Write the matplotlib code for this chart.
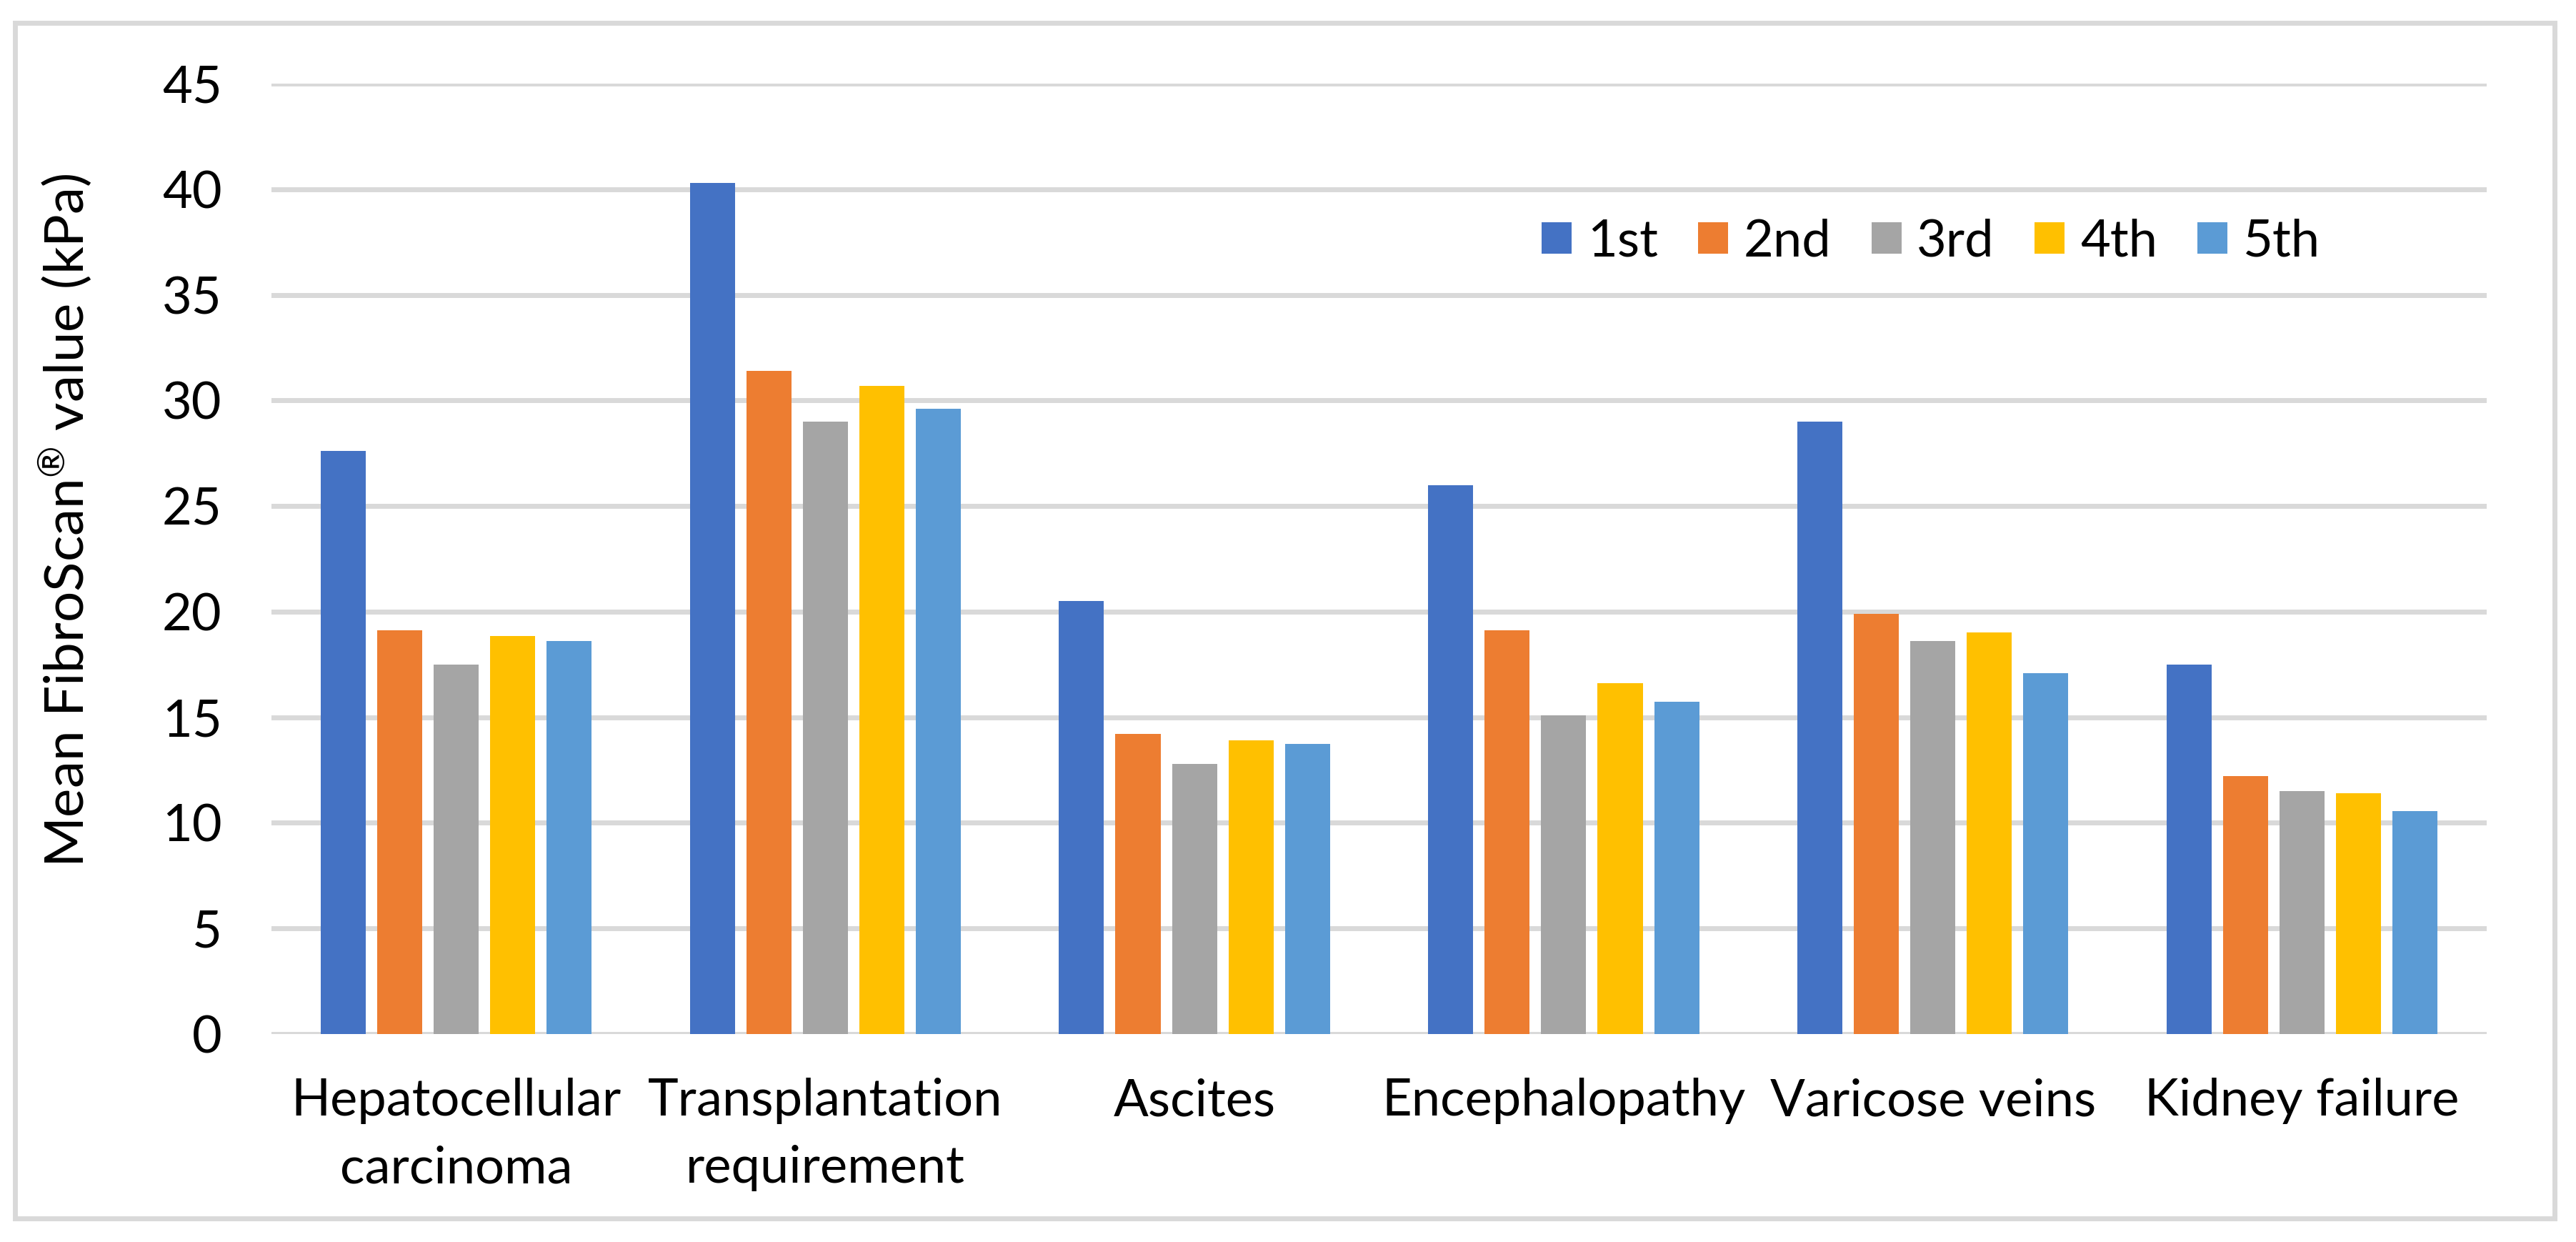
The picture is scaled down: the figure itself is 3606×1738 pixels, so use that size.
import matplotlib
matplotlib.use("Agg")
import matplotlib.pyplot as plt
import numpy as np
from matplotlib.patches import Rectangle, Patch

plt.rcParams['font.family'] = ['Lato', 'DejaVu Sans']
plt.rcParams['mathtext.fontset'] = 'custom'
plt.rcParams['mathtext.rm'] = 'Lato'
plt.rcParams['mathtext.it'] = 'Lato'
plt.rcParams['mathtext.bf'] = 'Lato'

categories = ["Hepatocellular\ncarcinoma", "Transplantation\nrequirement", "Ascites",
              "Encephalopathy", "Varicose veins", "Kidney failure"]
series_names = ["1st", "2nd", "3rd", "4th", "5th"]
v1st = [27.6, 40.3, 20.5, 26.0, 29.0, 17.5]
v2nd = [19.1, 31.4, 14.2, 19.1, 19.9, 12.2]
v3rd = [17.5, 29.0, 12.8, 15.1, 18.6, 11.5]
v4th = [18.85, 30.7, 13.9, 16.6, 19.0, 11.4]
v5th = [18.6, 29.6, 13.75, 15.75, 17.1, 10.55]
colors = ["#4472C4", "#ED7D31", "#A5A5A5", "#FFC000", "#5B9BD5"]
yticks = [0, 5, 10, 15, 20, 25, 30, 35, 40, 45]

W, H = 3606, 1738
dpi = 100
FS = 52
fig = plt.figure(figsize=(W / dpi, H / dpi), dpi=dpi)
fig.patch.set_facecolor("white")

# outer chart border
fig.patches.append(Rectangle((21 / W, 1 - 1705 / H), (3576 - 21) / W, (1705 - 32) / H,
                             transform=fig.transFigure, fill=False,
                             edgecolor="#D9D9D9", linewidth=5, zorder=0))

ax = fig.add_axes([380 / W, 1 - 1447 / H, (3481 - 380) / W, (1447 - 117) / H])
data = [v1st, v2nd, v3rd, v4th, v5th]
x = np.arange(len(categories))
bw = 0.122
pitch = 0.153
for i, (vals, c, name) in enumerate(zip(data, colors, series_names)):
    ax.bar(x + (i - 2) * pitch, vals, width=bw, color=c, label=name, zorder=3)

ax.set_xlim(-0.5, len(categories) - 0.5)
ax.set_ylim(0, 45)
ax.set_yticks(yticks)
ax.yaxis.grid(True, color="#D9D9D9", linewidth=5, zorder=0)
ax.set_axisbelow(True)
for s in ax.spines.values():
    s.set_visible(False)
ax.tick_params(axis='y', length=0, pad=50, labelsize=FS)
ax.tick_params(axis='x', length=0, pad=44, labelsize=FS)
ax.set_xticks(x)
ax.set_xticklabels(categories, linespacing=1.55)
ax.set_ylabel(r"Mean FibroScan$^{\circledR}$ value (kPa)", fontsize=55)
ax.yaxis.set_label_coords(-0.0803, 0.5406)

handles = [Patch(facecolor=c, edgecolor='none') for c in colors]
leg = ax.legend(handles, series_names, ncol=5, frameon=False, fontsize=FS,
                loc='center', bbox_to_anchor=(2703 / W, 1 - 338 / H),
                bbox_transform=fig.transFigure,
                handlelength=0.58, handleheight=0.58, handletextpad=0.3,
                columnspacing=0.78)

fig.savefig("out.png", dpi=dpi, facecolor="white")
